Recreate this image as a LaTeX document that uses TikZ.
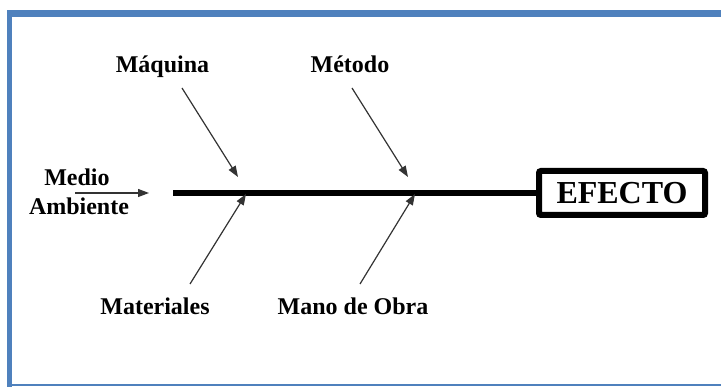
\documentclass[tikz,border=0pt]{standalone}
\usepackage{fontspec}
\setmainfont{Liberation Serif}
\usetikzlibrary{arrows.meta}
\definecolor{framebl}{HTML}{4F81BD}
\definecolor{arrgray}{HTML}{333333}
\begin{document}
\begin{tikzpicture}[x=1pt,y=-1pt,
  lbl/.style={font=\bfseries\fontsize{24}{27}\selectfont,anchor=base,inner sep=0pt},
  cause/.style={draw=arrgray,line width=1.2pt,-{Triangle[length=11pt,width=8pt]}},
  effbox/.style={draw=black,line width=6pt,rounded corners=2pt,minimum width=166pt,minimum height=44pt,inner sep=0pt,font=\bfseries\fontsize{32}{36}\selectfont}]
\useasboundingbox (0,0) rectangle (721,387);
% frame
\fill[framebl] (7,10) rectangle (12,387);
\fill[framebl] (7,10) rectangle (721,17);
\fill[framebl] (7,384.5) rectangle (721,386);
% labels
\node[lbl] (maq) at (162.5,73) {Máquina};
\node[lbl] (met) at (350,73) {Método};
\node[lbl] (mat) at (155,315) {Materiales};
\node[lbl] (mano) at (353,315) {Mano de Obra};
\node[lbl] (medio) at (77,186) {Medio};
\node[lbl] (amb) at (79,215) {Ambiente};
% effect box
\node[effbox] (efecto) at (622,193) {EFECTO};
% spine
\coordinate (spinestart) at (173,193);
\draw[line width=6pt] (spinestart) -- (efecto.west);
% arrow ends
\coordinate (a1s) at (182,88);  \coordinate (a1e) at (238,177);
\coordinate (a2s) at (352,88);  \coordinate (a2e) at (408,177);
\coordinate (a3s) at (190,284); \coordinate (a3e) at (246,194);
\coordinate (a4s) at (360,284); \coordinate (a4e) at (415,194);
\coordinate (a5s) at (75,193);  \coordinate (a5e) at (149,193);
\draw[cause] (a1s) -- (a1e);
\draw[cause] (a2s) -- (a2e);
\draw[cause] (a3s) -- (a3e);
\draw[cause] (a4s) -- (a4e);
\draw[cause] (a5s) -- (a5e);
\end{tikzpicture}
\end{document}
